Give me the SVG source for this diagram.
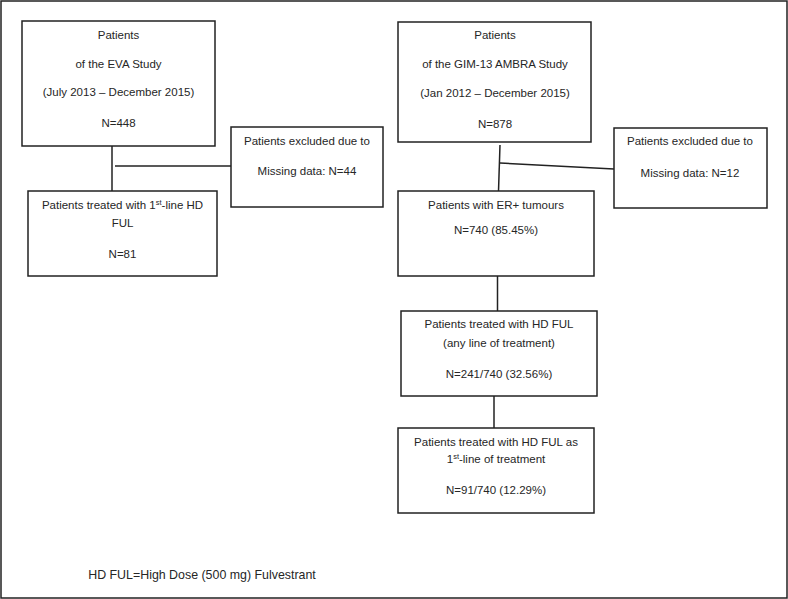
<svg xmlns="http://www.w3.org/2000/svg" width="788" height="599" viewBox="0 0 788 599">
<style>
.box{fill:#fff;stroke:#222;stroke-width:1.5}
.ln{stroke:#222;stroke-width:1.5;fill:none}
text{font-family:"Liberation Sans",Arial,sans-serif;font-size:11.5px;fill:#262626;text-anchor:middle}
.sup{font-size:7.5px}
.foot{font-size:12.4px}
</style>
<rect x="1" y="1" width="786" height="597" fill="#fff" stroke="#222" stroke-width="1.5"/>
<g id="connectors">
<line class="ln" x1="112" y1="146" x2="112" y2="191"/>
<line class="ln" x1="115" y1="166" x2="231" y2="166"/>
<line class="ln" x1="500" y1="145" x2="498.5" y2="191"/>
<line class="ln" x1="500" y1="163" x2="614" y2="169"/>
<line class="ln" x1="497.5" y1="276" x2="497.5" y2="311"/>
<line class="ln" x1="494" y1="396" x2="494" y2="428"/>
</g>
<g id="eva">
<rect class="box" x="22" y="21" width="193" height="125"/>
<text x="118.5" y="39">Patients</text>
<text x="118.5" y="68">of the EVA Study</text>
<text x="118.5" y="96">(July 2013 – December 2015)</text>
<text x="118.5" y="127">N=448</text>
</g>
<g id="excl1">
<rect class="box" x="231" y="127" width="152" height="80"/>
<text x="307" y="145">Patients excluded due to</text>
<text x="307" y="175">Missing data: N=44</text>
</g>
<g id="hd1">
<rect class="box" x="28" y="191" width="189" height="85"/>
<text x="122.5" y="209">Patients treated with 1<tspan class="sup" dy="-4">st</tspan><tspan dy="4">-line HD</tspan></text>
<text x="122.5" y="227">FUL</text>
<text x="122.5" y="258">N=81</text>
</g>
<g id="gim">
<rect class="box" x="398" y="22" width="193" height="120"/>
<text x="495" y="39">Patients</text>
<text x="495" y="68">of the GIM-13 AMBRA Study</text>
<text x="495" y="97">(Jan 2012 – December 2015)</text>
<text x="495" y="128">N=878</text>
</g>
<g id="excl2">
<rect class="box" x="614" y="128" width="153" height="80"/>
<text x="690" y="145">Patients excluded due to</text>
<text x="690" y="177">Missing data: N=12</text>
</g>
<g id="er">
<rect class="box" x="398" y="191" width="196" height="85"/>
<text x="496" y="209">Patients with ER+ tumours</text>
<text x="496" y="234">N=740 (85.45%)</text>
</g>
<g id="hdany">
<rect class="box" x="401" y="311" width="196" height="85"/>
<text x="499" y="328">Patients treated with HD FUL</text>
<text x="499" y="347">(any line of treatment)</text>
<text x="499" y="378">N=241/740 (32.56%)</text>
</g>
<g id="hdfirst">
<rect class="box" x="398" y="428" width="196" height="85"/>
<text x="496" y="446">Patients treated with HD FUL as</text>
<text x="496" y="463">1<tspan class="sup" dy="-4">st</tspan><tspan dy="4">-line of treatment</tspan></text>
<text x="496" y="494">N=91/740 (12.29%)</text>
</g>
<text class="foot" x="202" y="579">HD FUL=High Dose (500 mg) Fulvestrant</text>
</svg>
